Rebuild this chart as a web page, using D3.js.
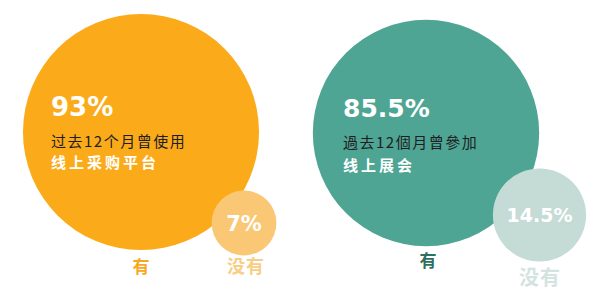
<!DOCTYPE html>
<html><head><meta charset="utf-8">
<script src="https://cdn.jsdelivr.net/npm/d3@7"></script>
<style>
html,body{margin:0;padding:0;background:#fff;}
svg{display:block;}
.pct{font-family:"DejaVu Sans",sans-serif;font-weight:700;fill:#fff;}
.cjk{font-family:"Noto Sans CJK SC","Noto Sans CJK TC",sans-serif;}
</style>
</head><body>
<svg id="chart" width="600" height="308"></svg>
<script>
// ---- data ----
const groups = ["采购平台", "展会"];
const yesValues = [93, 85.5];
const noValues = [7, 14.5];
const yesLabels = ["93%", "85.5%"];
const noLabels = ["7%", "14.5%"];
const line1 = ["过去12个月曾使用", "過去12個月曾參加"];
const line2 = ["线上采购平台", "线上展会"];
const catYes = ["有", "有"];
const catNo = ["没有", "没有"];

// ---- styling / layout ----
const colYes = ["#FBAB19", "#4EA594"];
const colNo = ["#FAC775", "#C4DCD5"];
const colYesLbl = ["#F6A821", "#2E6F60"];
const colNoLbl = ["#F8CD86", "#D3E3DF"];
const bigCenter = [[141, 132], [426, 133]];
const smallOffset = [[103, 91], [113.5, 82]];
const textOffset = [-90, -83];
const yesLblPos = [[141, 273], [428, 267]];
const noLblPos = [[246, 273], [540, 285]];
const noLblSize = [18, 20];

const r = d3.scaleSqrt().domain([0, 100]).range([0, 122.4]);
const svg = d3.select("#chart");

groups.forEach((g, i) => {
  const [cx, cy] = bigCenter[i];
  const sx = cx + smallOffset[i][0], sy = cy + smallOffset[i][1];
  const G = svg.append("g");
  G.append("circle").attr("cx", cx).attr("cy", cy).attr("r", r(yesValues[i])).attr("fill", colYes[i]);
  G.append("circle").attr("cx", sx).attr("cy", sy).attr("r", r(noValues[i])).attr("fill", colNo[i]);

  const tx = cx + textOffset[i];
  G.append("text").attr("class", "pct").attr("x", tx).attr("y", cy - 16)
    .attr("font-size", i ? 25 : 26).text(yesLabels[i]);
  G.append("text").attr("class", "cjk").attr("x", tx).attr("y", cy + 15)
    .attr("font-size", 15).attr("letter-spacing", 1.5).attr("fill", "#1e1e1e").text(line1[i]);
  G.append("text").attr("class", "cjk").attr("x", tx).attr("y", cy + 36 + (i ? 2 : 0))
    .attr("font-size", 15).attr("font-weight", 700).attr("letter-spacing", 3).attr("fill", "#fff").text(line2[i]);

  G.append("text").attr("class", "pct").attr("x", sx).attr("y", sy + (i ? 7 : 8))
    .attr("text-anchor", "middle").attr("font-size", i ? 19 : 21).text(noLabels[i]);

  G.append("text").attr("class", "cjk").attr("x", yesLblPos[i][0]).attr("y", yesLblPos[i][1])
    .attr("text-anchor", "middle").attr("font-size", 17).attr("font-weight", 700)
    .attr("fill", colYesLbl[i]).text(catYes[i]);
  G.append("text").attr("class", "cjk").attr("x", noLblPos[i][0]).attr("y", noLblPos[i][1])
    .attr("text-anchor", "middle").attr("font-size", noLblSize[i]).attr("font-weight", 700)
    .attr("letter-spacing", 1).attr("fill", colNoLbl[i]).text(catNo[i]);
});
</script>
</body></html>
